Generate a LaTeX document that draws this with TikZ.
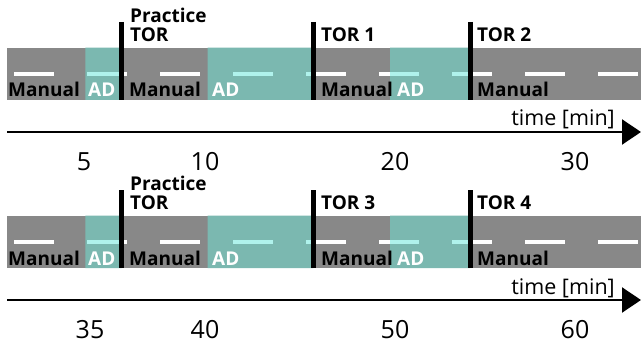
\documentclass[tikz,border=0pt]{standalone}
\usepackage{fontspec}
\setmainfont{Open Sans}
\usetikzlibrary{arrows.meta}
\definecolor{roadgray}{HTML}{888888}
\definecolor{adteal}{HTML}{7BB8B0}
\definecolor{dashcyan}{HTML}{B0F2EC}

\begin{document}
\begin{tikzpicture}[x=1pt,y=-1pt,
 lbl/.style={anchor=base west,inner sep=0pt,font=\fontsize{19}{19}\selectfont\bfseries},
 num/.style={anchor=base,inner sep=0pt,font=\fontsize{25}{25}\selectfont},
 dashline/.style={line width=4pt,dash pattern=on 40pt off 33pt},
 bar/.style={line width=5pt},
 axis/.style={line width=2.2pt,-{Triangle[length=19pt,width=25pt]}}]
 \useasboundingbox (0,0) rectangle (641,345);

 \foreach \row/\dy/\tora/\torb/\na/\nb/\nc/\nd/\xa in
  {1/0/1/2/5/10/20/30/84, 2/168/3/4/35/40/50/60/90}
 {\begin{scope}[yshift=-\dy pt]
  % road with manual and AD parts
  \fill[roadgray] (7,47.7) rectangle (641,100);
  \fill[adteal] (85.3,47.7) rectangle (121.7,100) (207.7,47.7) rectangle (313.3,100)
   (390,47.7) rectangle (470,100);
  \draw[dashline,white] (14,74) -- (641,74);
  \begin{scope}
   \clip (85.3,47.7) rectangle (121.7,100) (207.7,47.7) rectangle (313.3,100)
    (390,47.7) rectangle (470,100);
   \draw[dashline,dashcyan] (14,74) -- (641,74);
  \end{scope}

  \node[lbl] (m1\row) at (8,97) {Manual};
  \node[lbl,white] (a1\row) at (88,97) {AD};
  \node[lbl] (m2\row) at (129,97) {Manual};
  \node[lbl,white] (a2\row) at (212,97) {AD};
  \node[lbl] (m3\row) at (321,97) {Manual};
  \node[lbl,white] (a3\row) at (397,97) {AD};
  \node[lbl] (m4\row) at (477,97) {Manual};

  % take-over requests
  \node[lbl] (pt\row) at (130,41.7) {TOR};
  \node[lbl] (pp\row) at ([yshift=19.5pt]pt\row.base west) {Practice};
  \node[lbl] (ta\row) at (321,41.7) {TOR \tora};
  \node[lbl] (tb\row) at (477,41.7) {TOR \torb};
  \draw[bar] (121.7,22) -- (121.7,100);
  \draw[bar] (313.3,22) -- (313.3,100);
  \draw[bar] (470.2,22) -- (470.2,100);

  % time axis
  \coordinate (s\row) at (7,132);
  \coordinate (e\row) at (641,132);
  \draw[axis] (s\row) -- (e\row);
  \node[anchor=base east,inner sep=0pt,font=\fontsize{21.5}{21.5}\selectfont] (tm\row)
   at (615,126) {time [min]};
  \node[num] (n1\row) at (\xa,170.7) {\na};
  \node[num] (n2\row) at (205,170.7) {\nb};
  \node[num] (n3\row) at (395,170.7) {\nc};
  \node[num] (n4\row) at (575,170.7) {\nd};
 \end{scope}}
\end{tikzpicture}
\end{document}
